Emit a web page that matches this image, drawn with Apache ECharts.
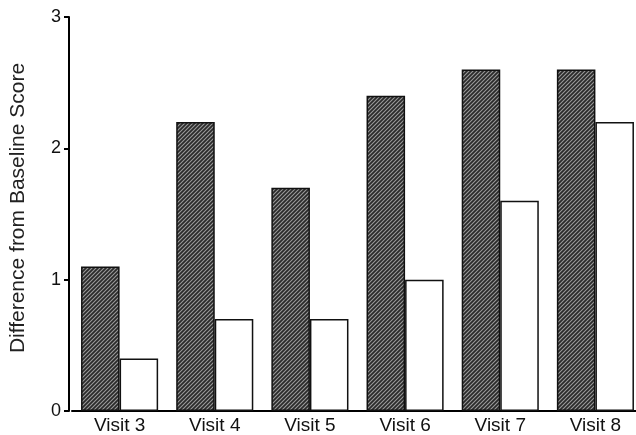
<!DOCTYPE html>
<html><head><meta charset="utf-8">
<script src="https://cdn.jsdelivr.net/npm/echarts@6/dist/echarts.min.js"></script>
<style>html,body{margin:0;padding:0;background:#fff}#c{width:636px;height:435px}</style>
</head><body><div id="c"></div>
<script>
const categories = ['Visit 3','Visit 4','Visit 5','Visit 6','Visit 7','Visit 8'];
const hatchedValues = [1.1, 2.2, 1.7, 2.4, 2.6, 2.6];
const openValues = [0.4, 0.7, 0.7, 1.0, 1.6, 2.2];
const yTicks = [0, 1, 2, 3];

function makeHatch(){
  const s = 4;
  const cv = document.createElement('canvas');
  cv.width = s; cv.height = s;
  const g = cv.getContext('2d');
  g.fillStyle = '#2a2a2a';
  g.fillRect(0,0,s,s);
  g.strokeStyle = '#9a9a9a';
  g.lineWidth = 1.1;
  g.beginPath();
  g.moveTo(-1, s+1); g.lineTo(s+1, -1);
  g.moveTo(-1, 1); g.lineTo(1, -1);
  g.moveTo(s-1, s+1); g.lineTo(s+1, s-1);
  g.stroke();
  return cv;
}

const chart = echarts.init(document.getElementById('c'), null, {renderer:'canvas'});
const font = 'Liberation Sans, Arial, Helvetica, sans-serif';
chart.setOption({
  animation: false,
  backgroundColor: '#fff',
  grid: {left: 72, width: 571, top: 17, bottom: 24, outerBoundsMode: 'none', containLabel: false},
  xAxis: {
    type: 'category', data: categories,
    axisLine: {lineStyle: {color: '#000', width: 2}},
    axisTick: {show: false},
    axisLabel: {color: '#111', fontFamily: font, fontSize: 19, margin: 5}
  },
  yAxis: {
    type: 'value', min: 0, max: 3, interval: 1, offset: 3,
    name: 'Difference from Baseline Score', nameLocation: 'middle', nameGap: 40,
    nameTextStyle: {color: '#222', fontFamily: font, fontSize: 21, padding: [0, 0, 0, 12]},
    axisLine: {show: true, lineStyle: {color: '#000', width: 2}},
    axisTick: {show: true, length: 5, lineStyle: {color: '#000', width: 2}},
    axisLabel: {color: '#111', fontFamily: font, fontSize: 18, margin: 8,
      formatter: v => yTicks.includes(v) ? String(v) : ''},
    splitLine: {show: false}
  },
  series: [
    {type: 'bar', data: hatchedValues, barGap: '0%', barCategoryGap: '19%',
     itemStyle: {color: {image: makeHatch(), repeat: 'repeat'}, borderColor: '#111', borderWidth: 1.5}},
    {type: 'bar', data: openValues,
     itemStyle: {color: '#fff', borderColor: '#111', borderWidth: 1.5}}
  ]
});
</script></body></html>
